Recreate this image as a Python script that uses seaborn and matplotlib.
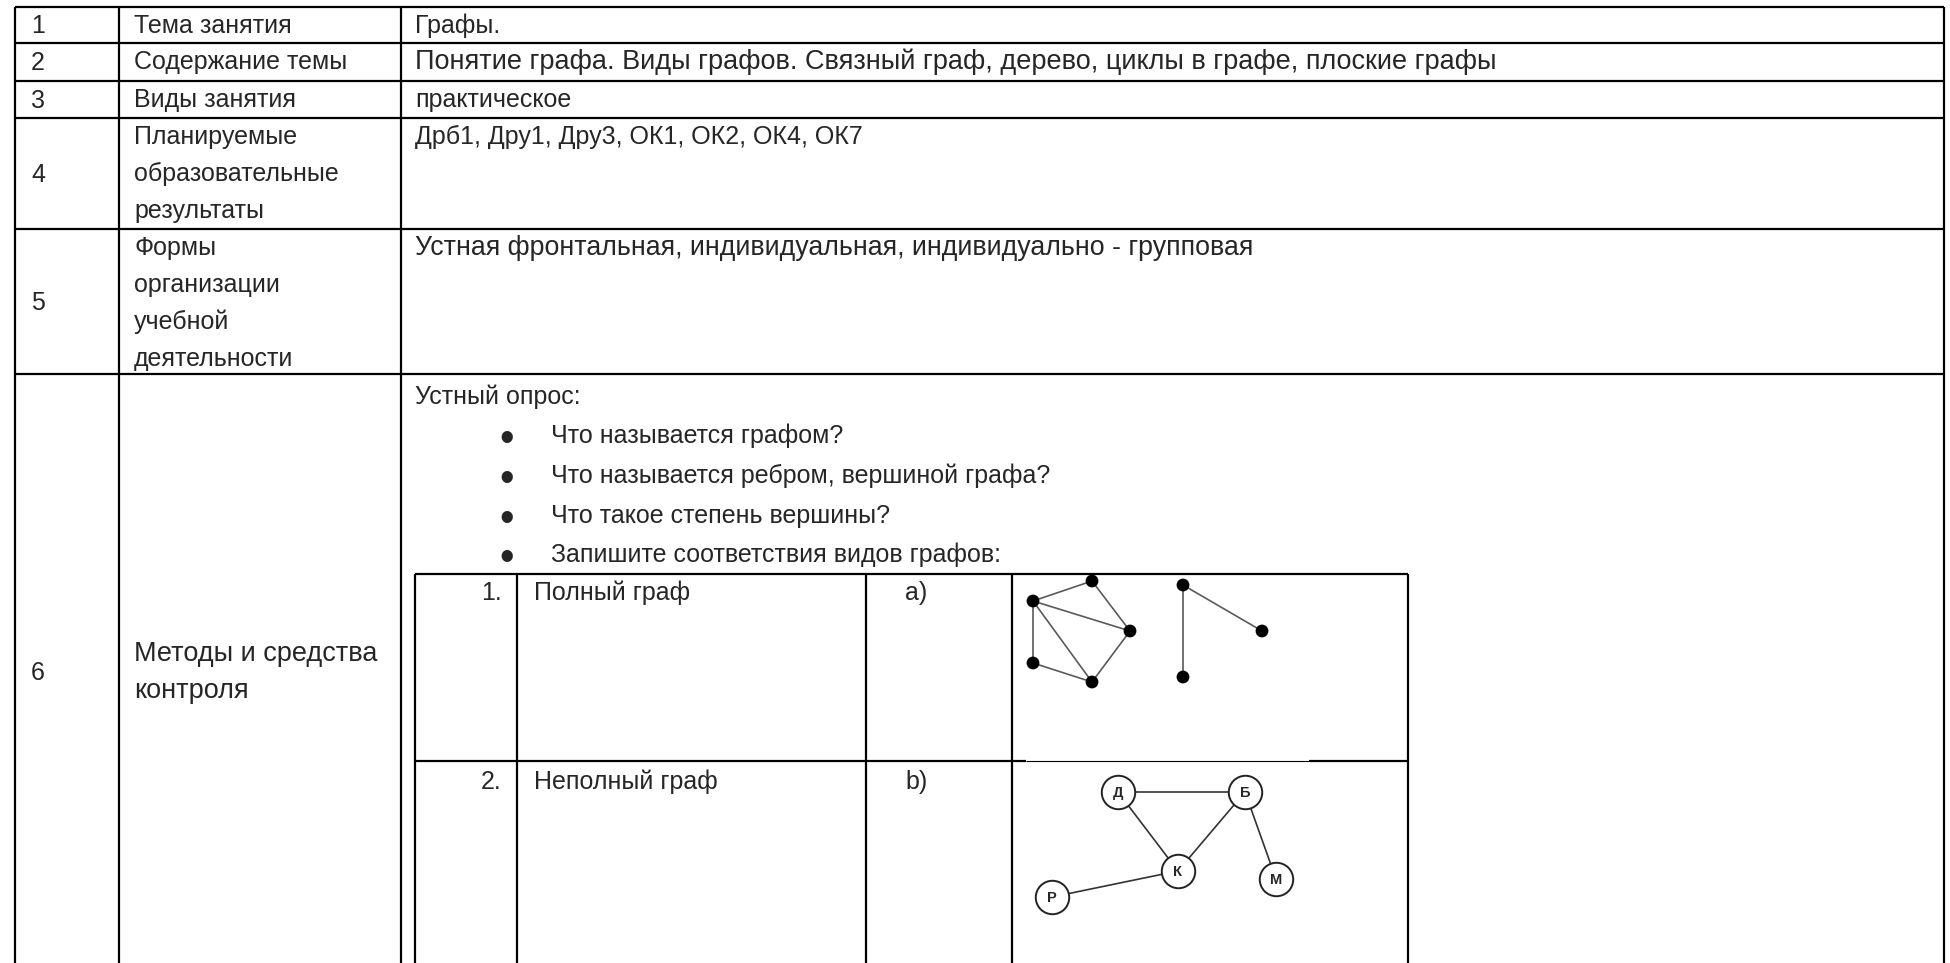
import matplotlib
matplotlib.use("Agg")
import matplotlib.pyplot as plt
import pandas as pd
import seaborn as sns

# table content
row_numbers = ["1", "2", "3", "4", "5", "6"]
row_titles = [
    ["Тема занятия"],
    ["Содержание темы"],
    ["Виды занятия"],
    ["Планируемые", "образовательные", "результаты"],
    ["Формы", "организации", "учебной", "деятельности"],
    ["Методы и средства", "контроля"],
]
row_values = [
    "Графы.",
    "Понятие графа. Виды графов. Связный граф, дерево, циклы в графе, плоские графы",
    "практическое",
    "Дрб1, Дру1, Дру3, ОК1, ОК2, ОК4, ОК7",
    "Устная фронтальная, индивидуальная, индивидуально - групповая",
]
survey_title = "Устный опрос:"
survey_questions = [
    "Что называется графом?",
    "Что называется ребром, вершиной графа?",
    "Что такое степень вершины?",
    "Запишите соответствия видов графов:",
]
match_numbers = ["1.", "2."]
match_names = ["Полный граф", "Неполный граф"]
match_letters = ["a)", "b)"]

# picture a): two graphs drawn as dots
graph_a_nodes = pd.DataFrame({
    "node": ["A", "B", "C", "D", "E", "F", "G", "H"],
    "x": [21, 80, 118, 21, 80, 171, 250, 171],
    "y": [27, 7, 57, 89, 108, 11, 57, 103],
})
graph_a_edges = [("A", "B"), ("A", "C"), ("A", "D"), ("A", "E"), ("B", "C"),
                 ("C", "E"), ("D", "E"), ("F", "G"), ("F", "H")]

# picture b): labelled vertices
graph_b_nodes = pd.DataFrame({
    "node": ["Д", "Б", "К", "М", "Р"],
    "x": [106, 233, 166, 264, 40],
    "y": [31, 31, 110, 118, 136],
})
graph_b_edges = [("Д", "Б"), ("Д", "К"), ("Б", "К"), ("Б", "М"), ("Р", "К")]

sns.set_style("white")
plt.rcParams["font.family"] = ["Liberation Sans", "DejaVu Sans"]

W, H = 1950, 963
fig = plt.figure(figsize=(19.5, 9.63), dpi=100)
ax = fig.add_axes([0, 0, 1, 1])
ax.set_xlim(0, W)
ax.set_ylim(H, 0)
ax.axis("off")

FS = 18
LW = 1.6
# the source text mixes fonts, so a few lines run wider
value_sizes = [18, 19.5, 18, 18, 19.3]

# outer grid
col_x = [15, 119, 401, 1944]
row_y = [7, 43, 81, 118, 229, 374]
for x in col_x:
    ax.vlines(x, row_y[0], H, color="black", lw=LW)
for y in row_y:
    ax.hlines(y, col_x[0], col_x[-1], color="black", lw=LW)

# rows 1-5
line_h = 37
for i in range(5):
    top, bottom = row_y[i], row_y[i + 1]
    ax.text(31, (top + bottom) / 2 + 1, row_numbers[i], fontsize=FS, va="center")
    for j, t in enumerate(row_titles[i]):
        ax.text(134, top + 19 + j * line_h, t, fontsize=FS, va="center")
    ax.text(415, top + 19, row_values[i], fontsize=value_sizes[i], va="center")

# row 6
ax.text(31, 673, row_numbers[5], fontsize=FS, va="center")
for j, t in enumerate(row_titles[5]):
    ax.text(134, 654 + j * line_h, t, fontsize=19.5, va="center")
ax.text(415, 397, survey_title, fontsize=FS, va="center")
q_y = [436, 476, 516, 555]
for q, y in zip(survey_questions, q_y):
    ax.text(507, y + 4, "\u2022", fontsize=30, va="center", ha="center")
    ax.text(551, y, q, fontsize=FS, va="center")

# inner matching table
in_x = [415, 517, 866, 1012, 1408]
in_top, in_mid = 574, 761
for x in in_x:
    ax.vlines(x, in_top, H, color="black", lw=LW)
ax.hlines(in_top, in_x[0], in_x[-1], color="black", lw=LW)
ax.hlines(in_mid, in_x[0], 1026, color="black", lw=LW)
ax.hlines(in_mid, 1026, 1309, color="black", lw=0.8)
ax.hlines(in_mid, 1309, in_x[-1], color="black", lw=LW)

for k, y in enumerate([593, 782]):
    ax.text(502, y, match_numbers[k], fontsize=FS, va="center", ha="right")
    ax.text(534, y, match_names[k], fontsize=FS, va="center")
    ax.text(905, y, match_letters[k], fontsize=FS, va="center")


def cell_axes(x0, y0, w, h):
    a = fig.add_axes([x0 / W, 1 - (y0 + h) / H, w / W, h / H])
    a.set_xlim(0, w)
    a.set_ylim(h, 0)
    a.axis("off")
    return a


# graph a
axa = cell_axes(1012, in_top, 396, in_mid - in_top)
pa = graph_a_nodes.set_index("node")
for u, v in graph_a_edges:
    axa.plot([pa.loc[u, "x"], pa.loc[v, "x"]], [pa.loc[u, "y"], pa.loc[v, "y"]],
             color="#5a5a5a", lw=1.2, zorder=1)
sns.scatterplot(data=graph_a_nodes, x="x", y="y", ax=axa, color="black",
                s=85, edgecolor="none", zorder=2, legend=False)
axa.set_xlim(0, 396)
axa.set_ylim(in_mid - in_top, 0)
axa.axis("off")

# graph b
axb = cell_axes(1012, in_mid, 396, H - in_mid)
pb = graph_b_nodes.set_index("node")
for u, v in graph_b_edges:
    axb.plot([pb.loc[u, "x"], pb.loc[v, "x"]], [pb.loc[u, "y"], pb.loc[v, "y"]],
             color="#333333", lw=1.2, zorder=1)
sns.scatterplot(data=graph_b_nodes, x="x", y="y", ax=axb, color="white",
                s=580, edgecolor="#222222", linewidth=1.4, zorder=2, legend=False)
for _, r in graph_b_nodes.iterrows():
    axb.text(r["x"], r["y"] + 1, r["node"], fontsize=10.5, fontweight="bold",
             ha="center", va="center", zorder=3)
axb.set_xlim(0, 396)
axb.set_ylim(H - in_mid, 0)
axb.axis("off")

fig.savefig("out.png", dpi=100, facecolor="white")
plt.close(fig)
